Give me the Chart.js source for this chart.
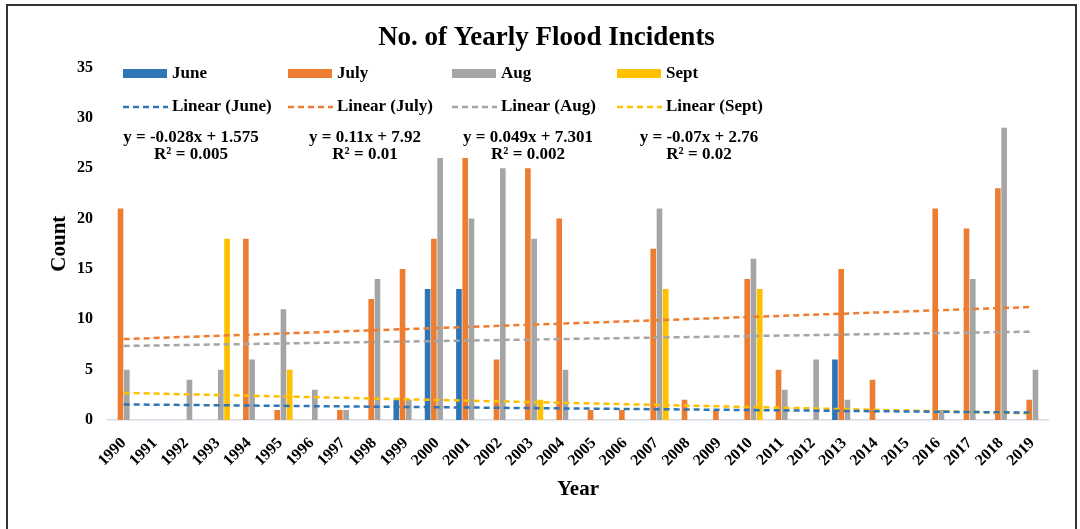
<!DOCTYPE html>
<html>
<head>
<meta charset="utf-8">
<title>No. of Yearly Flood Incidents</title>
<script src="https://cdn.jsdelivr.net/npm/chart.js@4.4.0/dist/chart.umd.min.js"></script>
<style>
  html, body { margin: 0; padding: 0; background: #fff; }
  canvas { display: block; }
</style>
</head>
<body>
<canvas id="floods" width="1080" height="529"></canvas>
<script>
const years = ['1990', '1991', '1992', '1993', '1994', '1995', '1996', '1997', '1998', '1999',
  '2000', '2001', '2002', '2003', '2004', '2005', '2006', '2007', '2008', '2009',
  '2010', '2011', '2012', '2013', '2014', '2015', '2016', '2017', '2018', '2019'];

const june = [0, 0, 0, 0, 0, 0, 0, 0, 0, 2, 13, 13, 0, 0, 0, 0, 0, 0, 0, 0, 0, 0, 0, 6, 0, 0, 0, 0, 0, 0];
const july = [21, 0, 0, 0, 18, 1, 0, 1, 12, 15, 18, 26, 6, 25, 20, 1, 1, 17, 2, 1, 14, 5, 0, 15, 4, 0, 21, 19, 23, 2];
const aug = [5, 0, 4, 5, 6, 11, 3, 1, 14, 2, 26, 20, 25, 18, 5, 0, 0, 21, 0, 0, 16, 3, 6, 2, 0, 0, 1, 14, 29, 5];
const sept = [0, 0, 0, 18, 0, 5, 0, 0, 0, 0, 0, 0, 0, 2, 0, 0, 0, 13, 0, 0, 13, 0, 0, 0, 0, 0, 0, 0, 0, 0];

const monthNames = ['June', 'July', 'Aug', 'Sept'];
const monthColors = ['#2e75b6', '#ed7d31', '#a5a5a5', '#ffc000'];

// Excel linear trendlines as printed on the chart (x = 1 for 1990 ... 30 for 2019)
const trendSlopes = [-0.028, 0.11, 0.049, -0.07];
const trendIntercepts = [1.575, 7.92, 7.301, 2.76];
const trendR2 = [0.005, 0.01, 0.002, 0.02];

const serif = '"Liberation Serif", "Times New Roman", serif';
Chart.defaults.font.family = serif;
Chart.defaults.color = '#000';

// only the two ends of each trendline are needed, the line spans the gap
function trendLine(m, b) {
  return years.map((_, i) => (i === 0 || i === years.length - 1) ? m * (i + 1) + b : null);
}

const barSets = [june, july, aug, sept].map((data, i) => ({
  type: 'bar',
  label: monthNames[i],
  data,
  backgroundColor: monthColors[i],
  borderWidth: 0,
  categoryPercentage: 0.8,
  barPercentage: 0.9,
  order: 2
}));

const trendSets = monthNames.map((name, i) => ({
  type: 'line',
  label: 'Linear (' + name + ')',
  data: trendLine(trendSlopes[i], trendIntercepts[i]),
  borderColor: monthColors[i],
  borderWidth: 2.5,
  borderDash: [6, 4],
  pointRadius: 0,
  spanGaps: true,
  fill: false,
  order: 1
}));

// white page with the dark frame around the whole figure
const frame = {
  id: 'frame',
  beforeDraw(chart) {
    const ctx = chart.ctx;
    ctx.save();
    ctx.fillStyle = '#fff';
    ctx.fillRect(0, 0, chart.width, chart.height);
    ctx.strokeStyle = '#333';
    ctx.lineWidth = 2;
    ctx.strokeRect(7, 5, 1069, chart.height + 10);
    ctx.restore();
  }
};

// legend laid out in fixed columns, trendline equations under it
const legendCols = [123, 288, 452, 617];
const eqCenters = [191, 365, 528, 699];
const floodLegend = {
  id: 'floodLegend',
  afterDraw(chart) {
    const ctx = chart.ctx;
    const ds = chart.data.datasets;
    ctx.save();
    ctx.font = 'bold 17px ' + serif;
    ctx.textBaseline = 'middle';
    for (let i = 0; i < 4; i++) {
      const x = legendCols[i];
      const bar = ds[i];
      const trend = ds[i + 4];

      ctx.fillStyle = bar.backgroundColor;
      ctx.fillRect(x, 69, 44, 9);
      ctx.fillStyle = '#000';
      ctx.textAlign = 'left';
      ctx.fillText(bar.label, x + 49, 74);

      ctx.strokeStyle = trend.borderColor;
      ctx.lineWidth = 2.5;
      ctx.setLineDash(trend.borderDash);
      ctx.beginPath();
      ctx.moveTo(x, 107);
      ctx.lineTo(x + 45, 107);
      ctx.stroke();
      ctx.setLineDash([]);
      ctx.fillText(trend.label, x + 49, 107);

      const b = trendIntercepts[i];
      ctx.textAlign = 'center';
      ctx.fillText('y = ' + trendSlopes[i] + 'x ' + (b < 0 ? '- ' : '+ ') + Math.abs(b), eqCenters[i], 138);
      ctx.fillText('R\u00b2 = ' + trendR2[i], eqCenters[i], 155);
    }
    ctx.restore();
  }
};

new Chart(document.getElementById('floods'), {
  type: 'bar',
  data: {
    labels: years,
    datasets: [...barSets, ...trendSets]
  },
  options: {
    responsive: false,
    animation: false,
    devicePixelRatio: 1,
    layout: { padding: { left: 45, right: 32, top: 0, bottom: 0 } },
    plugins: {
      legend: { display: false },
      tooltip: { enabled: false },
      title: {
        display: true,
        text: 'No. of Yearly Flood Incidents',
        color: '#000',
        font: { size: 27, weight: 'bold' },
        padding: { top: 22, bottom: 13 }
      }
    },
    scales: {
      x: {
        offset: true,
        grid: { display: false, drawTicks: false },
        border: { display: true, color: '#d6dce5', width: 1.5 },
        ticks: {
          autoSkip: false,
          minRotation: 45,
          maxRotation: 45,
          padding: 14,
          color: '#000',
          font: { size: 16, weight: 'bold' }
        },
        title: {
          display: true,
          text: 'Year',
          color: '#000',
          font: { size: 21, weight: 'bold' },
          padding: { top: 0, bottom: 27 }
        },
        afterFit(scale) { scale.height = 109; }
      },
      y: {
        min: 0,
        max: 35,
        grid: { display: false, drawTicks: false },
        border: { display: false },
        ticks: {
          stepSize: 5,
          padding: 15,
          color: '#000',
          font: { size: 16, weight: 'bold' }
        },
        title: {
          display: true,
          text: 'Count',
          color: '#000',
          font: { size: 21, weight: 'bold' },
          padding: { top: 2, bottom: 0 }
        },
        afterFit(scale) { scale.width = 63; }
      }
    }
  },
  plugins: [frame, floodLegend]
});
</script>
</body>
</html>
